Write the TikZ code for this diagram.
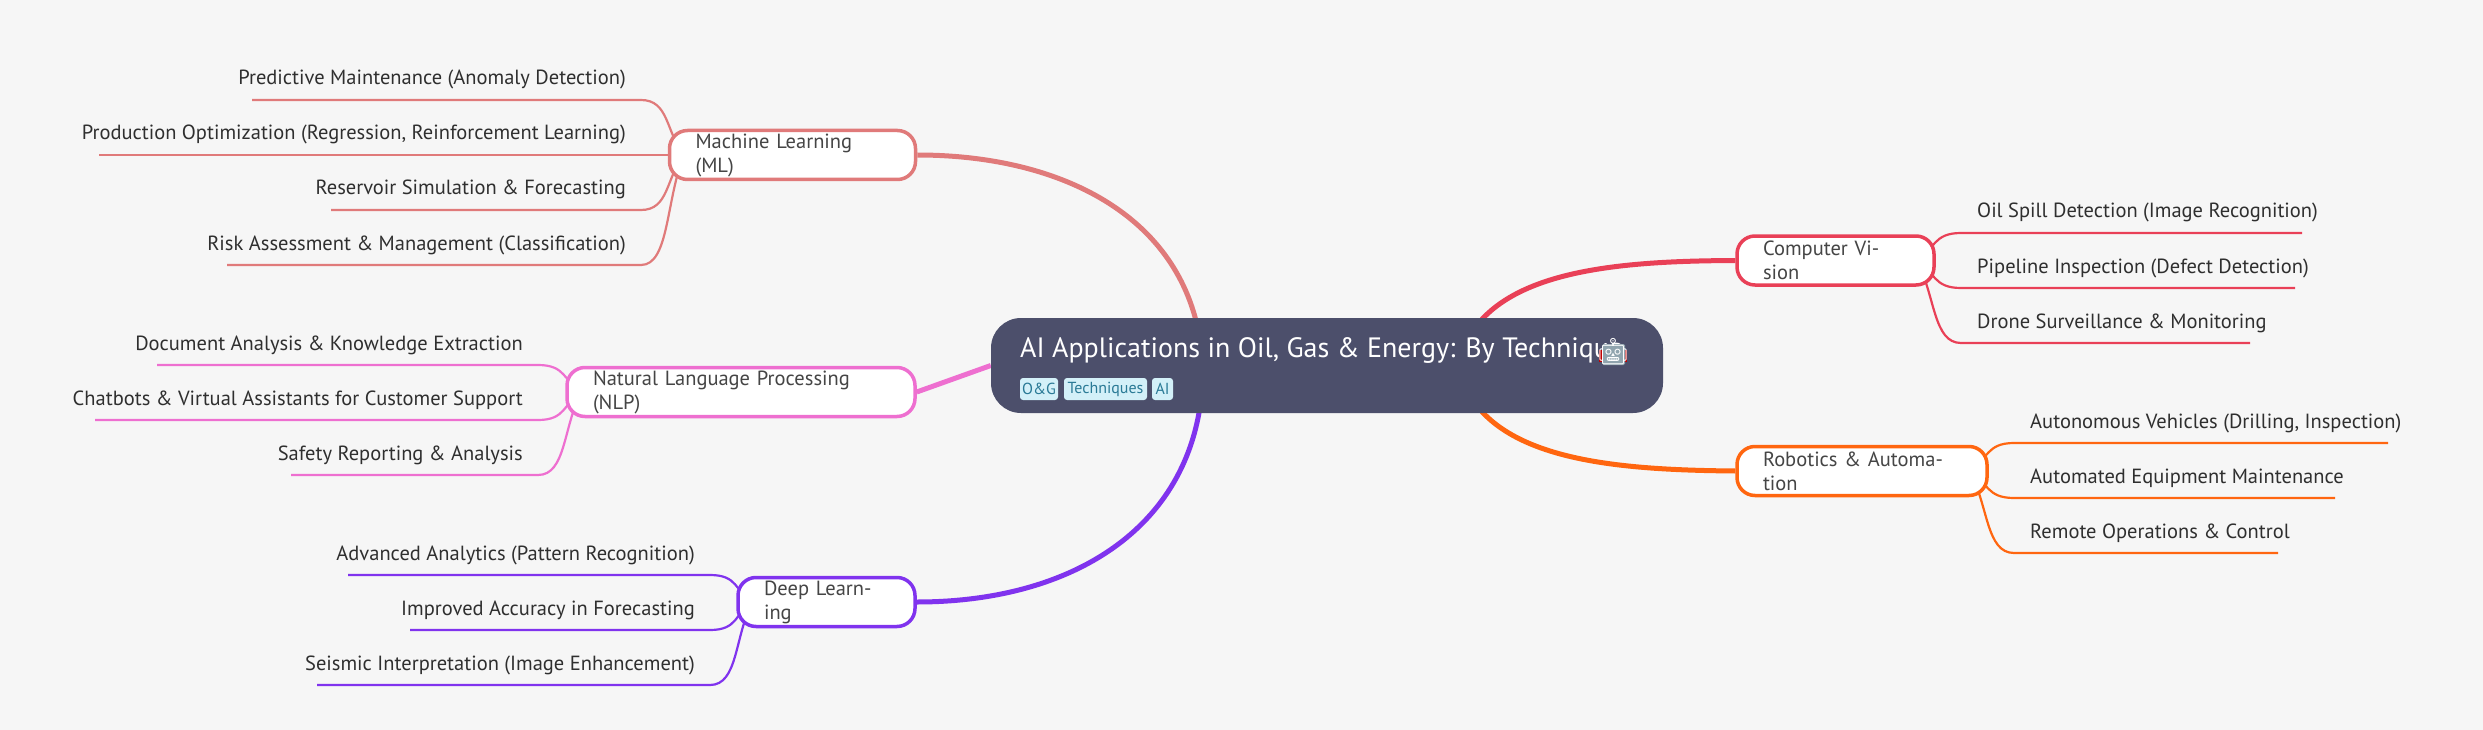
\documentclass[tikz,border=0pt]{standalone}
\usepackage{fontspec}
\setmainfont{PT Sans}
\newfontfamily\emojifont{Noto Emoji}
\usetikzlibrary{calc,backgrounds}
\definecolor{bgc}{HTML}{F6F6F6}
\definecolor{rootc}{HTML}{4C4F6B}
\definecolor{mlc}{HTML}{E07A7A}
\definecolor{nlpc}{HTML}{EE6FD0}
\definecolor{dlc}{HTML}{8033EE}
\definecolor{cvc}{HTML}{E94057}
\definecolor{roc}{HTML}{FF6610}
\definecolor{tagbg}{HTML}{D3F0F8}
\definecolor{tagfg}{HTML}{2A7A96}
\definecolor{leaftx}{HTML}{2F2F2F}
\definecolor{branchtx}{HTML}{454545}
\definecolor{robotc}{HTML}{90A4AE}
\tikzset{
  x=1pt,y=-1pt,
  rootbox/.style={fill=rootc,rounded corners=30pt,inner sep=0pt,minimum width=672pt,minimum height=95pt},
  branchbox/.style={draw=#1,fill=white,line width=3.5pt,rounded corners=18pt,inner ysep=0pt,inner xsep=0pt,minimum height=49pt,text=branchtx,font=\fontsize{20.5}{24}\selectfont},
  trunk/.style={draw=#1,line width=5pt},
  wire/.style={draw=#1,line width=2.2pt},
  leaf/.style={inner sep=0pt,text=leaftx,font=\fontsize{20.5}{24}\selectfont},
  tagbox/.style={fill=tagbg,text=tagfg,rounded corners=3pt,inner sep=0pt,minimum height=22pt,font=\fontsize{16}{18}\selectfont},
}
\newcommand{\branchnode}[6]{\node[branchbox=#2,minimum width=#5pt,text width=#5pt-52pt,align=left] (#1) at (#3,#4) {\hspace*{0pt}#6};}
\newcommand{\leftleaf}[7]{%
  \coordinate (#1-far) at (#6,#5);\coordinate (#1-elbow) at (#4,#5);
  \node[leaf,anchor=base east] (#1) at (#4-15,#5-15) {#7};
  \begin{pgfonlayer}{background}
  \draw[wire=#2] (#1-far) -- (#1-elbow) .. controls ($(#1-elbow)+(28,0)$) and ($(#3)!.42!(#1-elbow)$) .. (#3);
  \end{pgfonlayer}}
\newcommand{\rightleaf}[7]{%
  \coordinate (#1-far) at (#6,#5);\coordinate (#1-elbow) at (#4,#5);
  \node[leaf,anchor=base west] (#1) at (#4+16,#5-15) {#7};
  \begin{pgfonlayer}{background}
  \draw[wire=#2] (#1-far) -- (#1-elbow) .. controls ($(#1-elbow)+(-28,0)$) and ($(#3)!.42!(#1-elbow)$) .. (#3);
  \end{pgfonlayer}}
\begin{document}
\begin{tikzpicture}
\useasboundingbox (0,0) rectangle (2483,730);
\begin{pgfonlayer}{background}
\fill[bgc] (0,0) rectangle (2483,730);
\end{pgfonlayer}
% root
\node[rootbox] (root) at (1327,365.5) {};
\node[anchor=base west,inner sep=0pt,text=white,font=\fontsize{28}{32}\selectfont] (title) at (1020,357) {AI Applications in Oil, Gas \& Energy: By Technique};
\fill[red!75!black] (1599,350) rectangle (1627,362);
\fill[robotc,rounded corners=1.5pt] (1602,344) rectangle (1625,365);
\node[anchor=center,inner sep=0pt,text=white,font=\emojifont\fontsize{26}{28}\selectfont] (robot) at (1613,352) {🤖};
\node[tagbox,minimum width=38pt] (tagA) at (1039,389) {O\&G};
\node[tagbox,minimum width=83pt] (tagB) at (1105.5,389) {Techniques};
\node[tagbox,minimum width=21pt] (tagC) at (1162.5,389) {AI};
% branches
\branchnode{ml}{mlc}{792.5}{155}{246}{Machine Learning (ML)}
\branchnode{nlp}{nlpc}{741}{392}{348}{Natural Language Processing (NLP)}
\branchnode{dl}{dlc}{826.5}{602}{177}{Deep Learning}
\branchnode{cv}{cvc}{1835.5}{260.5}{197}{Computer Vision}
\branchnode{ro}{roc}{1862}{471}{250}{Robotics \& Automation}
\coordinate (ml-hub) at ($(ml.west)+(16,0)$);
\coordinate (nlp-hub) at ($(nlp.west)+(16,0)$);
\coordinate (dl-hub) at ($(dl.west)+(16,0)$);
\coordinate (cv-hub) at ($(cv.east)+(-19,0)$);
\coordinate (ro-hub) at ($(ro.east)+(-19,0)$);
% trunk ends hidden beneath the root
\coordinate (root-ml) at (1200,340);
\coordinate (root-dl) at (1202,390);
\coordinate (root-cv) at (1470,335);
\coordinate (root-ro) at (1470,396);
\begin{pgfonlayer}{background}
\draw[trunk=mlc] (ml.east) .. controls (1060,155) and (1180,215) .. (root-ml);
\draw[trunk=nlpc] (nlp.east) -- (root.west);
\draw[trunk=dlc] (dl.east) .. controls (1070,602) and (1190,530) .. (root-dl);
\draw[trunk=cvc] (cv.west) .. controls (1620,261) and (1510,270) .. (root-cv);
\draw[trunk=roc] (ro.west) .. controls (1620,470) and (1510,461) .. (root-ro);
\end{pgfonlayer}
% leaves
\leftleaf{a1}{mlc}{ml-hub}{641}{100}{252}{Predictive Maintenance (Anomaly Detection)}
\leftleaf{a2}{mlc}{ml-hub}{641}{155}{99}{Production Optimization (Regression, Reinforcement Learning)}
\leftleaf{a3}{mlc}{ml-hub}{641}{210}{331}{Reservoir Simulation \& Forecasting}
\leftleaf{a4}{mlc}{ml-hub}{641}{265}{227}{Risk Assessment \& Management (Classification)}
\leftleaf{b1}{nlpc}{nlp-hub}{538}{365}{157}{Document Analysis \& Knowledge Extraction}
\leftleaf{b2}{nlpc}{nlp-hub}{538}{420}{95}{Chatbots \& Virtual Assistants for Customer Support}
\leftleaf{b3}{nlpc}{nlp-hub}{538}{475}{291}{Safety Reporting \& Analysis}
\leftleaf{c1}{dlc}{dl-hub}{710}{575}{348}{Advanced Analytics (Pattern Recognition)}
\leftleaf{c2}{dlc}{dl-hub}{710}{630}{410}{Improved Accuracy in Forecasting}
\leftleaf{c3}{dlc}{dl-hub}{710}{685}{317}{Seismic Interpretation (Image Enhancement)}
\rightleaf{d1}{cvc}{cv-hub}{1961}{233}{2302}{Oil Spill Detection (Image Recognition)}
\rightleaf{d2}{cvc}{cv-hub}{1961}{288}{2295}{Pipeline Inspection (Defect Detection)}
\rightleaf{d3}{cvc}{cv-hub}{1961}{343}{2250}{Drone Surveillance \& Monitoring}
\rightleaf{e1}{roc}{ro-hub}{2014}{443}{2388}{Autonomous Vehicles (Drilling, Inspection)}
\rightleaf{e2}{roc}{ro-hub}{2014}{498}{2335}{Automated Equipment Maintenance}
\rightleaf{e3}{roc}{ro-hub}{2014}{553}{2278}{Remote Operations \& Control}
\end{tikzpicture}
\end{document}
